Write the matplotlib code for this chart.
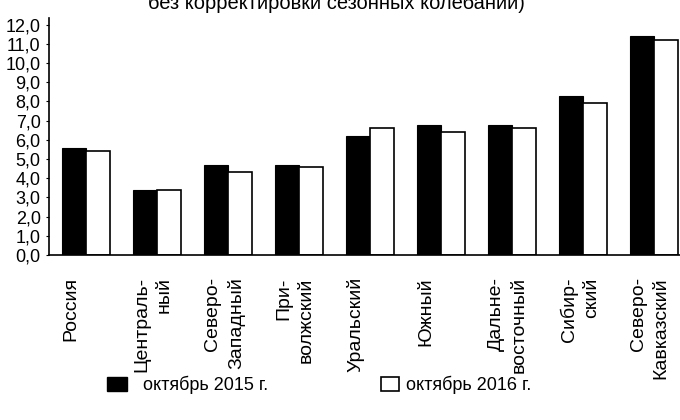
import matplotlib
matplotlib.use("Agg")
import matplotlib.pyplot as plt
from matplotlib.patches import Patch
import numpy as np

plt.rcParams['font.family'] = ['Liberation Sans', 'DejaVu Sans']

categories = ["Россия", "Централь-\nный", "Северо-\nЗападный", "При-\nволжский",
              "Уральский", "Южный", "Дальне-\nвосточный", "Сибир-\nский",
              "Северо-\nКавказский"]
oct_2015 = [5.6, 3.4, 4.7, 4.7, 6.2, 6.8, 6.8, 8.3, 11.4]
oct_2016 = [5.4, 3.4, 4.3, 4.6, 6.6, 6.4, 6.6, 7.9, 11.2]
yticks = [0, 1, 2, 3, 4, 5, 6, 7, 8, 9, 10, 11, 12]
ytick_labels = ["0,0", "1,0", "2,0", "3,0", "4,0", "5,0", "6,0", "7,0", "8,0",
                "9,0", "10,0", "11,0", "12,0"]
legend_labels = ["октябрь 2015 г.", "октябрь 2016 г."]
title = "без корректировки сезонных колебаний)"

fig = plt.figure(figsize=(6.8, 4.2), dpi=100)
ax = fig.add_axes([49/680, (420-255)/420, 1-49/680, 237/420])

x = np.arange(len(categories))
w = 0.34
ax.bar(x - w/2, oct_2015, width=w, color="black", edgecolor="black", linewidth=0.8)
ax.bar(x + w/2, oct_2016, width=w, color="white", edgecolor="black", linewidth=1.2)

ax.set_xlim(-0.52, 8.37)
ax.set_ylim(0, 12.35)
ax.set_yticks(yticks)
ax.set_yticklabels(ytick_labels, fontsize=13)
ax.set_xticks(x - w/2 - 0.16)
ax.set_xticklabels(categories, rotation=90, fontsize=14, va="top", ha="left",
                   multialignment="right", linespacing=1.4)
ax.tick_params(axis="x", length=0, pad=16)
ax.tick_params(axis="y", length=2, pad=4)
for s in ["top", "right"]:
    ax.spines[s].set_visible(False)
ax.spines["left"].set_linewidth(1.2)
ax.spines["bottom"].set_linewidth(1.2)

fig.text(0.495, 1 - 9/420, title, ha="center", va="baseline", fontsize=14.5)

h1 = Patch(facecolor="black", edgecolor="black")
h2 = Patch(facecolor="white", edgecolor="black", linewidth=1.2)
fig.legend([h1], [legend_labels[0]], loc="center left",
           bbox_to_anchor=(107/680, 1-385/420), frameon=False, fontsize=13,
           handlelength=1.1, handleheight=0.8, handletextpad=0.9,
           borderaxespad=0, borderpad=0)
fig.legend([h2], [legend_labels[1]], loc="center left",
           bbox_to_anchor=(381/680, 1-385/420), frameon=False, fontsize=13,
           handlelength=1.0, handleheight=0.8, handletextpad=0.4,
           borderaxespad=0, borderpad=0)

fig.savefig("out.png", dpi=100)
